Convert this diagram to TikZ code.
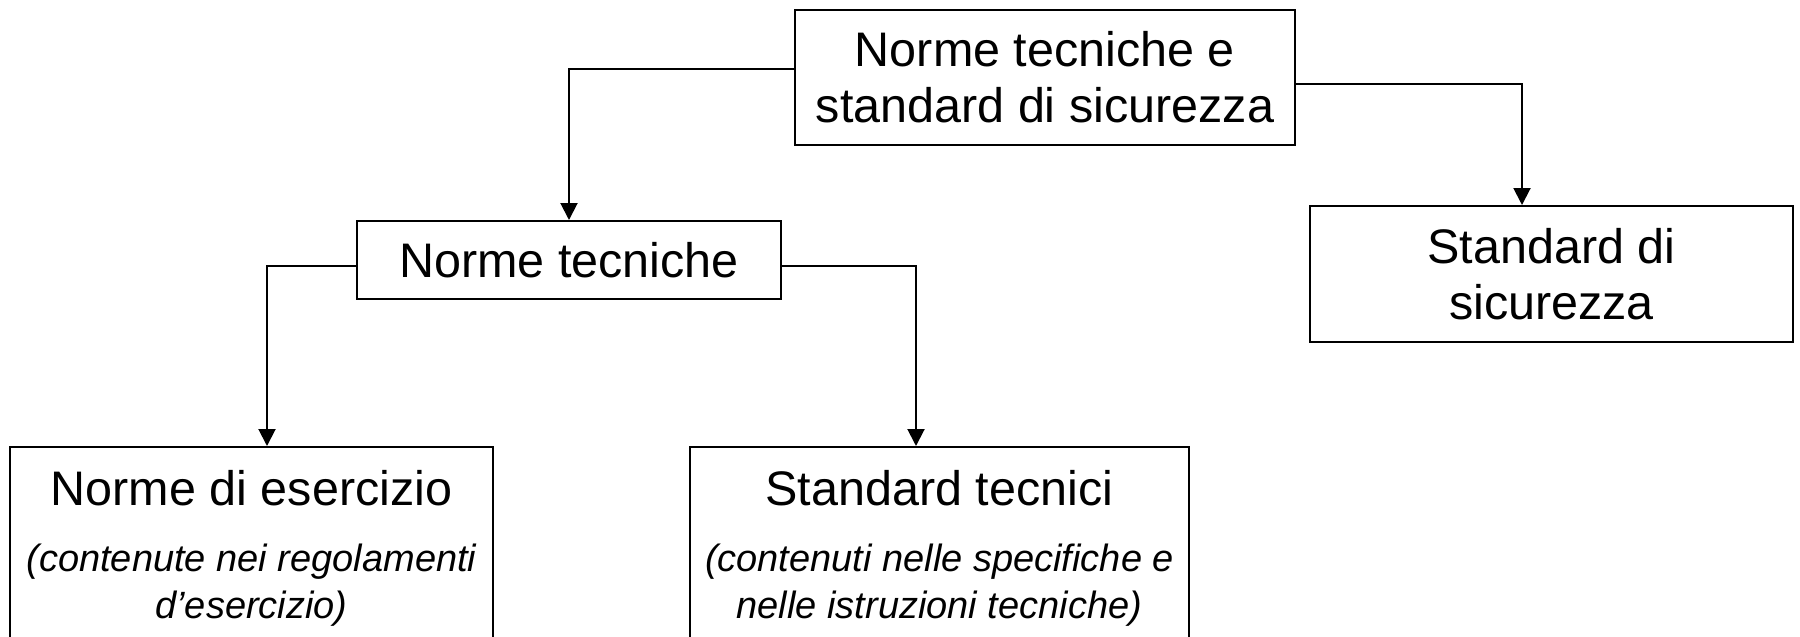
\documentclass[tikz,border=0pt]{standalone}
\usepackage{fontspec}
\setmainfont{Liberation Sans}
\usetikzlibrary{arrows.meta}
\newcommand{\bigtxt}{\fontsize{48.5pt}{56pt}\selectfont}
\newcommand{\smalltxt}{\fontsize{38pt}{47pt}\selectfont\itshape}
\begin{document}
\begin{tikzpicture}[x=1pt,y=-1pt,
  box/.style={draw,line width=2pt,inner sep=0pt,align=center,font=\bigtxt},
  lbl/.style={inner sep=0pt,anchor=base,align=center},
  arr/.style={line width=2pt,-{Triangle[length=17pt,width=17pt]}}]
\useasboundingbox (0,0) rectangle (1800,637);
\node[box,minimum width=500pt,minimum height=135pt] (top) at (1045,77.5) {Norme tecniche e\\standard di sicurezza};
\node[box,minimum width=424pt,minimum height=78pt] (nt) at (569,260) {Norme tecniche};
\node[box,minimum width=483pt,minimum height=136pt] (sds) at (1551.5,274) {Standard di\\sicurezza};
\node[box,minimum width=483pt,minimum height=230pt] (ne) at (251.5,562) {};
\node[box,minimum width=499pt,minimum height=230pt] (st) at (939.5,562) {};
\node[lbl,font=\bigtxt] (net) at (251.5,505) {Norme di esercizio};
\node[lbl,font=\smalltxt] (ne1) at (251.5,571) {(contenute nei regolamenti};
\node[lbl,font=\smalltxt] (ne2) at (251.5,618) {d’esercizio)};
\node[lbl,font=\bigtxt] (stt) at (939.5,505) {Standard tecnici};
\node[lbl,font=\smalltxt] (st1) at (939.5,571) {(contenuti nelle specifiche e};
\node[lbl,font=\smalltxt] (st2) at (939.5,618) {nelle istruzioni tecniche)};
\draw[arr] ([yshift=8.5pt]top.west) -| (nt.north);
\draw[arr] ([yshift=-6.5pt]top.east) -| ([xshift=-29.5pt]sds.north);
\draw[arr] ([yshift=-6pt]nt.west) -| ([xshift=15.5pt]ne.north);
\draw[arr] ([yshift=-6pt]nt.east) -| ([xshift=-23.5pt]st.north);
\end{tikzpicture}
\end{document}
